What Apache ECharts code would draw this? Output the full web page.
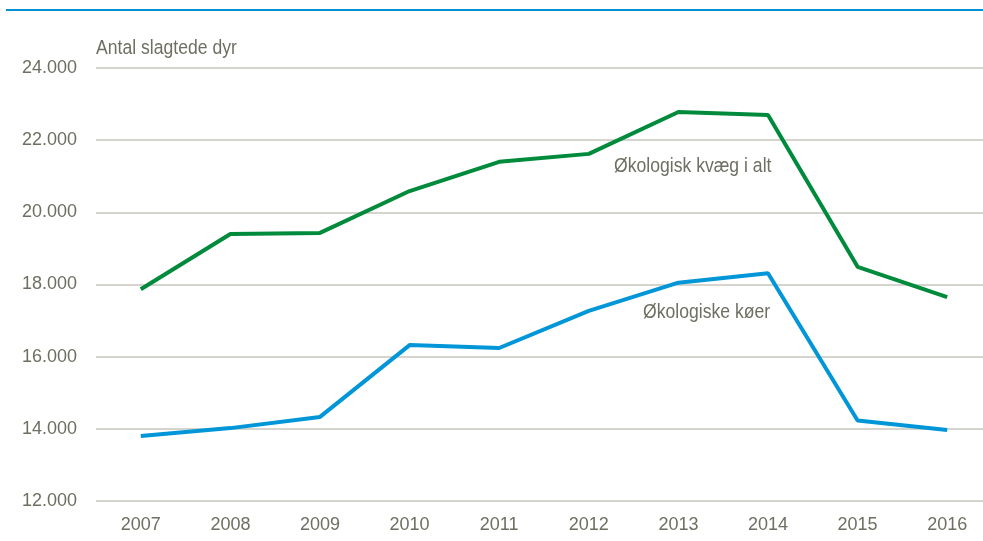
<!DOCTYPE html>
<html><head><meta charset="utf-8">
<script src="https://cdn.jsdelivr.net/npm/echarts@6/dist/echarts.min.js"></script>
<style>html,body{margin:0;padding:0;background:#fff}#c{width:983px;height:541px}</style>
</head><body><div id="c"></div>
<script>
var years = ['2007','2008','2009','2010','2011','2012','2013','2014','2015','2016'];
var kvaeg = [17870, 19400, 19430, 20590, 21400, 21620, 22780, 22700, 18490, 17650];
var koeer = [13800, 14020, 14330, 16320, 16240, 17270, 18050, 18310, 14230, 13970];
var seriesNames = ['Økologisk kvæg i alt', 'Økologiske køer'];
var yAxisTitle = 'Antal slagtede dyr';

var txt = '#6f6e62';
var ff = '"Liberation Sans", Arial, sans-serif';
var fnt = '17.6px ' + ff;
var chart = echarts.init(document.getElementById('c'));
chart.setOption({
  animation: false,
  textStyle: {fontFamily: ff},
  graphic: [
    {type: 'line', shape: {x1: 6, y1: 10, x2: 983, y2: 10}, style: {stroke: '#0090d4', lineWidth: 2}},
    {type: 'text', x: 96, y: 37, scaleY: 1.2, style: {text: yAxisTitle, fill: txt, font: fnt}},
    {type: 'text', x: 614, y: 155, scaleY: 1.2, style: {text: seriesNames[0], fill: txt, font: fnt}},
    {type: 'text', x: 643, y: 301, scaleY: 1.2, style: {text: seriesNames[1], fill: txt, font: fnt}}
  ],
  grid: {left: 96, width: 896, top: 68, bottom: 40, containLabel: false, outerBoundsMode: 'none'},
  xAxis: {
    type: 'category', data: years, boundaryGap: true,
    axisLine: {show: false}, axisTick: {show: false},
    axisLabel: {color: txt, fontSize: 18, fontFamily: ff, margin: 15}
  },
  yAxis: {
    type: 'value', min: 12000, max: 24000, interval: 2000,
    axisLine: {show: false}, axisTick: {show: false},
    axisLabel: {color: txt, fontSize: 18, fontFamily: ff, margin: 19,
      formatter: function (v) { return String(v).replace(/\B(?=(\d{3})+(?!\d))/g, '.'); }},
    splitLine: {lineStyle: {color: '#c9c7bd', width: 1.5}}
  },
  series: [
    {name: seriesNames[0], type: 'line', data: kvaeg, symbol: 'none',
     lineStyle: {color: '#008a3c', width: 4}},
    {name: seriesNames[1], type: 'line', data: koeer, symbol: 'none',
     lineStyle: {color: '#0096d7', width: 4}}
  ]
});
</script></body></html>
